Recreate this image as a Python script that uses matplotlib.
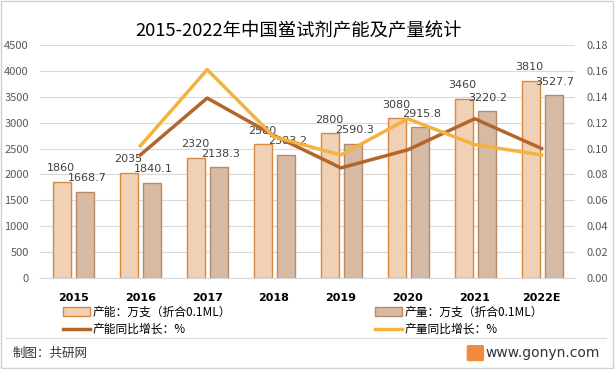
import matplotlib.pyplot as plt
import numpy as np
from matplotlib.patches import Rectangle, FancyBboxPatch
from matplotlib.lines import Line2D

plt.rcParams['font.family'] = ['Noto Sans CJK SC', 'DejaVu Sans']

years = ['2015', '2016', '2017', '2018', '2019', '2020', '2021', '2022E']
capacity = [1860, 2035, 2320, 2580, 2800, 3080, 3460, 3810]
output = [1668.7, 1840.1, 2138.3, 2383.2, 2590.3, 2915.8, 3220.2, 3527.7]
cap_growth = [None, 0.095, 0.139, 0.110, 0.085, 0.099, 0.123, 0.100]
out_growth = [None, 0.102, 0.161, 0.109, 0.095, 0.123, 0.103, 0.095]

fig = plt.figure(figsize=(6.15, 3.69), dpi=100)
ax = fig.add_axes([0.065, 0.247, 0.87, 0.631])
ax2 = ax.twinx()

x = np.arange(len(years))
w = 0.27
b1 = ax.bar(x - 0.165, capacity, w, color='#F0D1B6', edgecolor='#D9893F', linewidth=1, label='产能：万支（折合0.1ML）', zorder=2)
b2 = ax.bar(x + 0.18, output, w, color='#D6BAA3', edgecolor='#B98A66', linewidth=1, label='产量：万支（折合0.1ML）', zorder=2)

for i in range(len(years)):
    ax.annotate(str(capacity[i]), (x[i] - 0.18, capacity[i]), xytext=(0, 6), textcoords='offset points',
                ha='center', va='bottom', fontsize=8, color='#404040', family=['DejaVu Sans'])
    ax.annotate('%.1f' % output[i], (x[i] + 0.2, output[i]), xytext=(0, 6), textcoords='offset points',
                ha='center', va='bottom', fontsize=8, color='#404040', family=['DejaVu Sans'])

xs = x[1:]
l1, = ax2.plot(xs, cap_growth[1:], color='#B3662A', linewidth=2.5, label='产能同比增长：%', zorder=3)
l2, = ax2.plot(xs, out_growth[1:], color='#F4B23F', linewidth=2.5, label='产量同比增长：%', zorder=3)

ax.set_xlim(-0.5, len(years) - 0.5)
ax.set_ylim(0, 4500)
ax.set_yticks(np.arange(0, 4501, 500))
ax2.set_ylim(0, 0.18)
ax2.set_yticks(np.arange(0, 0.181, 0.02))
ax2.set_yticklabels(['%.2f' % v for v in np.arange(0, 0.181, 0.02)])
ax.set_xticks(x)
ax.set_xticklabels(years, fontweight='bold', fontsize=8.5, family=['DejaVu Sans'])

ax.grid(axis='y', color='#D9D9D9', linewidth=0.8, zorder=0)
ax.set_axisbelow(True)
for a in (ax, ax2):
    for s in ['top', 'left', 'right']:
        a.spines[s].set_visible(False)
    a.spines['bottom'].set_color('#D9D9D9')
    a.tick_params(length=0, labelsize=8, colors='#595959')
ax.tick_params(axis='x', colors='black', pad=11)
ax.tick_params(axis='y', pad=8)
ax2.tick_params(axis='y', pad=8)

fig.text(0.485, 0.914, '2015-2022年中国鲎试剂产能及产量统计', ha='center', va='center', fontsize=13.2, color='black')

fig.legend([b1, l1, b2, l2], [b1.get_label(), l1.get_label(), b2.get_label(), l2.get_label()],
           loc='upper left', bbox_to_anchor=(0.102, 0.172), ncol=2, frameon=False, fontsize=8.5,
           columnspacing=12.2, handlelength=2.3, handletextpad=0.2, labelspacing=0.35,
           borderpad=0, borderaxespad=0)

fig.add_artist(Line2D([0.01, 0.985], [0.084, 0.084], color='#D9D9D9', linewidth=0.8))
fig.text(0.02, 0.043, '制图：共研网', fontsize=9, va='center', color='#333333')
fig.add_artist(FancyBboxPatch((0.762, 0.025), 0.022, 0.036, boxstyle='round,pad=0.002', color='#F08A3C'))
fig.text(0.79, 0.043, 'www.gonyn.com', fontsize=10, va='center', color='#333333', family=['DejaVu Sans'])

fig.add_artist(Rectangle((0.002, 0.003), 0.995, 0.993, fill=False, edgecolor='#D0D0D0', linewidth=1))

fig.savefig('out.png', dpi=100)
